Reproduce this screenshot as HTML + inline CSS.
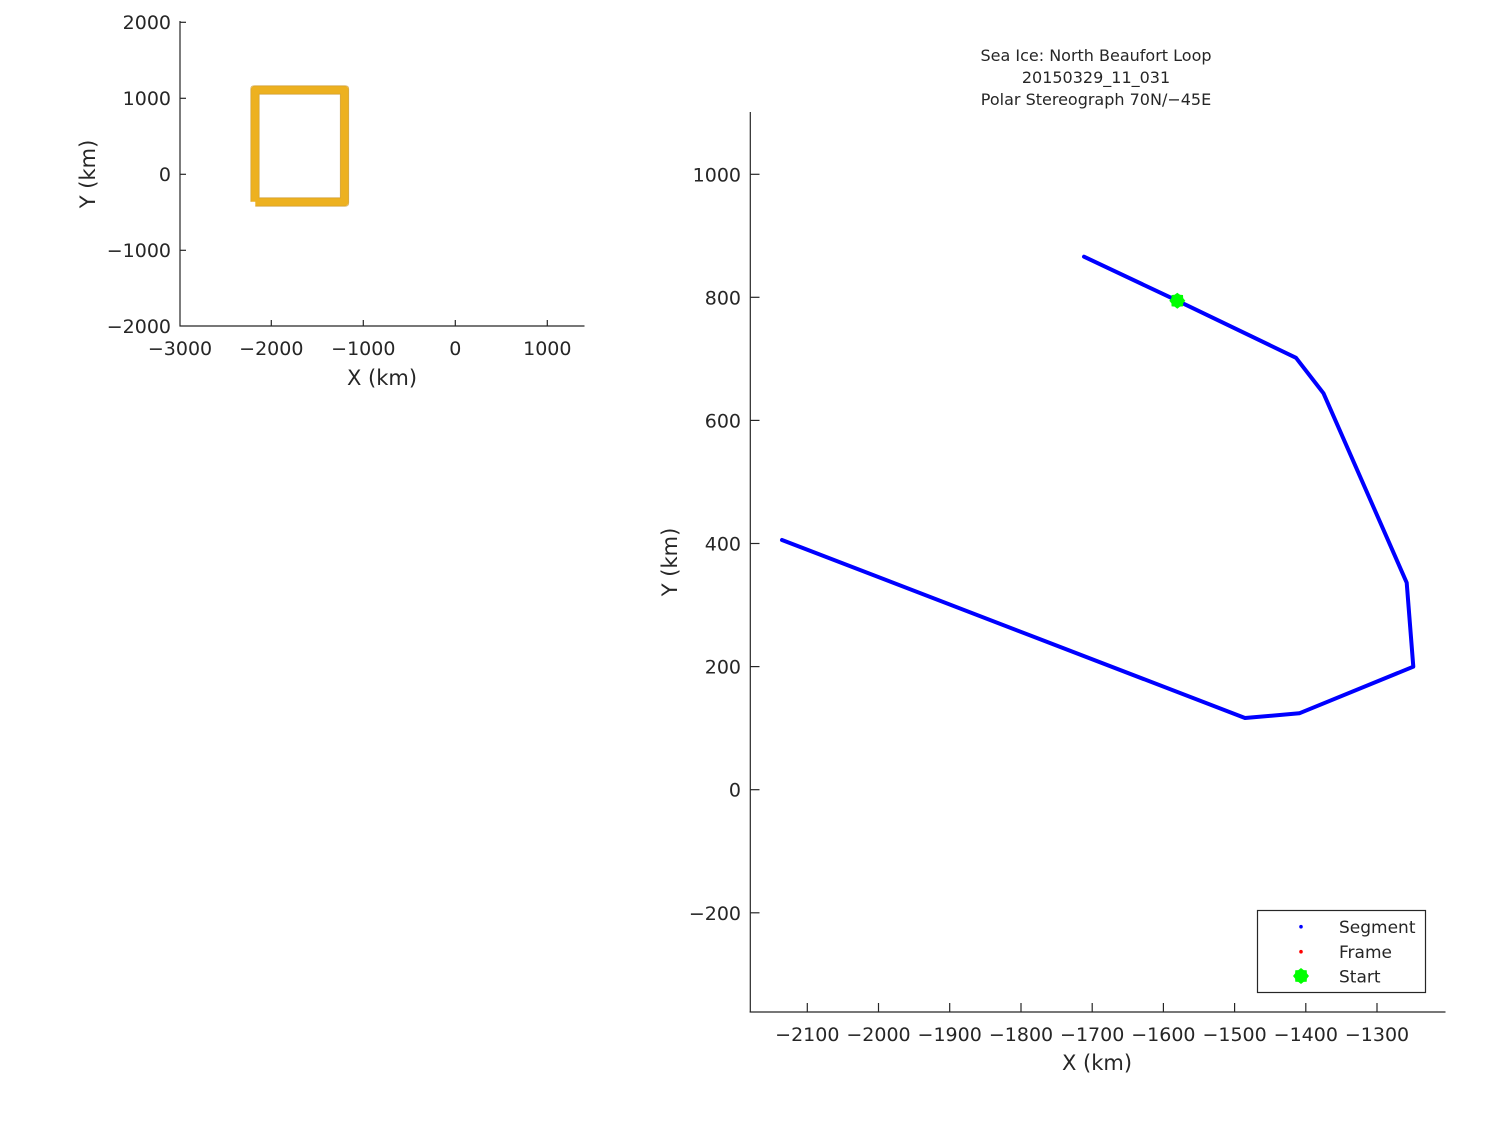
<!DOCTYPE html>
<html>
<head>
<meta charset="utf-8">
<style>
  html, body { margin:0; padding:0; background:#fff; }
  svg { display:block; }
  text { font-family: "DejaVu Sans", "Liberation Sans", sans-serif; fill:#262626; }
</style>
</head>
<body>
<svg width="1500" height="1125" viewBox="0 0 1500 1125" xmlns="http://www.w3.org/2000/svg">
  <rect x="0" y="0" width="1500" height="1125" fill="#fff"/>

  <!-- ===== Small axes (top-left) ===== -->
  <g stroke="#262626" stroke-width="1.2" fill="none">
    <line x1="180" y1="21" x2="180" y2="326.5"/>
    <line x1="179.5" y1="326" x2="584.5" y2="326"/>
    <!-- y ticks -->
    <line x1="180" y1="22.3" x2="186" y2="22.3"/>
    <line x1="180" y1="98.3" x2="186" y2="98.3"/>
    <line x1="180" y1="174.3" x2="186" y2="174.3"/>
    <line x1="180" y1="250.3" x2="186" y2="250.3"/>
    <!-- x ticks -->
    <line x1="271.3" y1="326" x2="271.3" y2="320"/>
    <line x1="363.3" y1="326" x2="363.3" y2="320"/>
    <line x1="455.3" y1="326" x2="455.3" y2="320"/>
    <line x1="547.3" y1="326" x2="547.3" y2="320"/>
  </g>
  <g font-size="19" text-anchor="end">
    <text x="171" y="29">2000</text>
    <text x="171" y="105">1000</text>
    <text x="171" y="181">0</text>
    <text x="171" y="257">−1000</text>
    <text x="171" y="333">−2000</text>
  </g>
  <g font-size="19" text-anchor="middle">
    <text x="180" y="355">−3000</text>
    <text x="271.3" y="355">−2000</text>
    <text x="363.3" y="355">−1000</text>
    <text x="455.3" y="355">0</text>
    <text x="547.3" y="355">1000</text>
  </g>
  <text x="382" y="385" font-size="21" text-anchor="middle">X (km)</text>
  <text x="0" y="0" font-size="21" text-anchor="middle" transform="translate(95,174) rotate(-90)">Y (km)</text>

  <!-- orange rectangle -->
  <path d="M255,201.7 L255,90 L344.5,90 L344.5,202 L255.3,202" fill="none" stroke="#EDB120" stroke-width="8.4" stroke-linejoin="round" stroke-linecap="butt"/>
  <path d="M250.8,201.7 L250.8,89 Q250.8,85.8 254,85.8 L345.5,85.8 Q348.7,85.8 348.7,89 L348.7,203 Q348.7,206.2 345.5,206.2 L255.3,206.2" fill="none" stroke="#c8962c" stroke-width="0.8" opacity="0.7"/>
  <path d="M259.2,197.8 L259.2,94.2 L340.3,94.2 L340.3,197.8 Z" fill="none" stroke="#c8962c" stroke-width="0.8" opacity="0.7"/>

  <!-- ===== Main axes ===== -->
  <g stroke="#262626" stroke-width="1.2" fill="none">
    <line x1="750.3" y1="112" x2="750.3" y2="1012.5"/>
    <line x1="749.7" y1="1012" x2="1445.5" y2="1012"/>
    <!-- y ticks -->
    <line x1="750.3" y1="174.3" x2="759.5" y2="174.3"/>
    <line x1="750.3" y1="297.3" x2="759.5" y2="297.3"/>
    <line x1="750.3" y1="420.4" x2="759.5" y2="420.4"/>
    <line x1="750.3" y1="543.5" x2="759.5" y2="543.5"/>
    <line x1="750.3" y1="666.6" x2="759.5" y2="666.6"/>
    <line x1="750.3" y1="789.7" x2="759.5" y2="789.7"/>
    <line x1="750.3" y1="912.8" x2="759.5" y2="912.8"/>
    <!-- x ticks -->
    <line x1="807.3" y1="1012" x2="807.3" y2="1003"/>
    <line x1="878.5" y1="1012" x2="878.5" y2="1003"/>
    <line x1="949.7" y1="1012" x2="949.7" y2="1003"/>
    <line x1="1021" y1="1012" x2="1021" y2="1003"/>
    <line x1="1092.2" y1="1012" x2="1092.2" y2="1003"/>
    <line x1="1163.4" y1="1012" x2="1163.4" y2="1003"/>
    <line x1="1234.6" y1="1012" x2="1234.6" y2="1003"/>
    <line x1="1305.8" y1="1012" x2="1305.8" y2="1003"/>
    <line x1="1377" y1="1012" x2="1377" y2="1003"/>
  </g>
  <g font-size="19" text-anchor="end">
    <text x="741" y="181.3">1000</text>
    <text x="741" y="304.3">800</text>
    <text x="741" y="427.4">600</text>
    <text x="741" y="550.5">400</text>
    <text x="741" y="673.6">200</text>
    <text x="741" y="796.7">0</text>
    <text x="741" y="919.8">−200</text>
  </g>
  <g font-size="19" text-anchor="middle">
    <text x="807.3" y="1041">−2100</text>
    <text x="878.5" y="1041">−2000</text>
    <text x="949.7" y="1041">−1900</text>
    <text x="1021" y="1041">−1800</text>
    <text x="1092.2" y="1041">−1700</text>
    <text x="1163.4" y="1041">−1600</text>
    <text x="1234.6" y="1041">−1500</text>
    <text x="1305.8" y="1041">−1400</text>
    <text x="1377" y="1041">−1300</text>
  </g>
  <text x="1097" y="1070" font-size="21" text-anchor="middle">X (km)</text>
  <text x="0" y="0" font-size="21" text-anchor="middle" transform="translate(677,562) rotate(-90)">Y (km)</text>

  <!-- title -->
  <g font-size="16" text-anchor="middle" fill="#000">
    <text x="1096" y="61" fill="#000">Sea Ice: North Beaufort Loop</text>
    <text x="1096" y="83" fill="#000">20150329_11_031</text>
    <text x="1096" y="105" fill="#000">Polar Stereograph 70N/−45E</text>
  </g>

  <!-- track -->
  <polyline points="1084,256.7 1177.3,300.7 1296,357.8 1323.5,393.3 1406.7,582.7 1413.3,666.7 1299.3,713.3 1245,718 782,540"
    fill="none" stroke="#0000FF" stroke-width="4" stroke-linejoin="round" stroke-linecap="round"/>

  <!-- start marker -->
  <g fill="#00FF00">
    <polygon points="1185.3,300.7 1183.2,303.3 1183,306.4 1180,306.6 1177.3,308.7 1174.6,306.6 1171.6,306.4 1171.4,303.3 1169.3,300.7 1171.4,298.1 1171.6,295 1174.6,294.8 1177.3,292.7 1180,294.8 1183,295 1183.2,298.1"/>
  </g>

  <!-- legend -->
  <rect x="1257.5" y="910.5" width="168" height="82" fill="#fff" stroke="#262626" stroke-width="1.2"/>
  <circle cx="1301" cy="926.7" r="1.8" fill="#0000FF"/>
  <circle cx="1301" cy="951.7" r="1.8" fill="#FF0000"/>
  <polygon fill="#00FF00" points="1309,976 1306.9,978.6 1306.7,981.7 1303.7,981.9 1301,984 1298.3,981.9 1295.3,981.7 1295.1,978.6 1293,976 1295.1,973.4 1295.3,970.3 1298.3,970.1 1301,968 1303.7,970.1 1306.7,970.3 1306.9,973.4"/>
  <g font-size="17" fill="#000">
    <text x="1339" y="933" fill="#000">Segment</text>
    <text x="1339" y="958" fill="#000">Frame</text>
    <text x="1339" y="982.5" fill="#000">Start</text>
  </g>
</svg>
</body>
</html>
